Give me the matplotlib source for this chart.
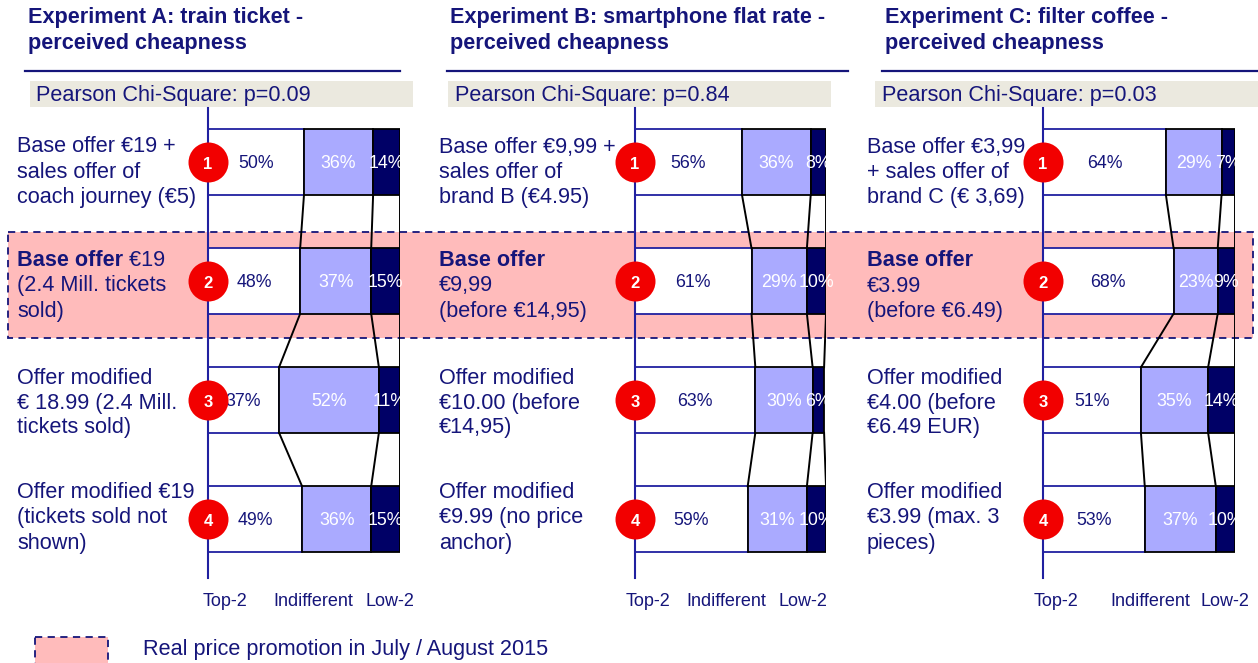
import numpy as np
import matplotlib
matplotlib.use("Agg")
import matplotlib.pyplot as plt
from matplotlib.patches import Rectangle

plt.rcParams['font.family'] = ['Liberation Sans', 'DejaVu Sans']

# ---- data -------------------------------------------------------------
titles = ["Experiment A: train ticket -\nperceived cheapness",
          "Experiment B: smartphone flat rate -\nperceived cheapness",
          "Experiment C: filter coffee -\nperceived cheapness"]
p_values = ["0.09", "0.84", "0.03"]

top2 = [[50, 48, 37, 49], [56, 61, 63, 59], [64, 68, 51, 53]]
indiff = [[36, 37, 52, 36], [36, 29, 30, 31], [29, 23, 35, 37]]
low2 = [[14, 15, 11, 15], [8, 10, 6, 10], [7, 9, 14, 10]]

row_labels = [
    ["Base offer €19 +\nsales offer of\ncoach journey (€5)",
     "Base offer €19\n(2.4 Mill. tickets\nsold)",
     "Offer modified\n€ 18.99 (2.4 Mill.\ntickets sold)",
     "Offer modified €19\n(tickets sold not\nshown)"],
    ["Base offer €9,99 +\nsales offer of\nbrand B (€4.95)",
     "Base offer\n€9,99\n(before €14,95)",
     "Offer modified\n€10.00 (before\n€14,95)",
     "Offer modified\n€9.99 (no price\nanchor)"],
    ["Base offer €3,99\n+ sales offer of\nbrand C (€ 3,69)",
     "Base offer\n€3.99\n(before €6.49)",
     "Offer modified\n€4.00 (before\n€6.49 EUR)",
     "Offer modified\n€3.99 (max. 3\npieces)"],
]
bold_prefix = "Base offer"   # bold on the highlighted row
highlight_row = 1
tick_labels = ["Top-2", "Indifferent", "Low-2"]
legend_text = "Real price promotion in July / August 2015"

# ---- style / layout (pixels) -----------------------------------------
W, H = 1258, 663
NAVY = '#15157a'
AXBLUE = '#2020a0'
LIGHT = '#aaaaff'
DARK = '#000066'
PINK = '#ffbbbb'
GREY = '#ebe9df'
RED = '#f20000'
FS = 15.6

title_x = [28, 450, 885]
uline = [(25, 400), (447, 848), (882, 1258)]
gbox = [(30, 413), (448, 831), (875, 1258)]
pearson_x = [36, 455, 882]
axis_x = [(208, 400), (635, 826), (1043, 1235)]
tick_pos = [[9, 55, 95], [7, 48, 88], [7, 56, 95]]
label_x = [17, 439, 867]
label_shift = [10, 5, 3, -1]   # px, label block vs bar center
ax_top, ax_bot = 108, 578
row_gap = 119          # px between bar centers
first_row = 162        # px of first bar center
bar_h = 0.55

fig = plt.figure(figsize=(W / 100, H / 100), dpi=100)
bg = fig.add_axes([0, 0, 1, 1])
bg.set_xlim(0, W)
bg.set_ylim(H, 0)
bg.axis('off')

# highlight band for the real price promotion
bg.add_patch(Rectangle((8, 232), 1245, 106, fc=PINK, ec=NAVY,
                       ls=(0, (4, 3)), lw=1.3, zorder=0))

for p in range(3):
    for k, line in enumerate(titles[p].split('\n')):
        bg.text(title_x[p], 18 + 26 * k, line, fontsize=FS, fontweight='bold',
                color=NAVY, va='center', ha='left')
    bg.plot(uline[p], [71, 71], color=NAVY, lw=1.6)
    bg.add_patch(Rectangle((gbox[p][0], 81), gbox[p][1] - gbox[p][0], 26,
                           fc=GREY, ec='none'))
    bg.text(pearson_x[p], 96, f"Pearson Chi-Square: p={p_values[p]}",
            fontsize=FS, color=NAVY, va='center', ha='left')

    x0, x1 = axis_x[p]
    ax = fig.add_axes([x0 / W, 1 - ax_bot / H, (x1 - x0) / W, (ax_bot - ax_top) / H])
    ax.patch.set_visible(False)
    top_lim = -(first_row - ax_top) / row_gap
    ax.set_ylim(top_lim + (ax_bot - ax_top) / row_gap, top_lim)
    ax.set_xlim(0, 100)

    rows = np.arange(4)
    t = np.array(top2[p])
    m = np.array(indiff[p])
    l = np.array(low2[p])
    ax.barh(rows, t, height=bar_h, color='white', edgecolor=AXBLUE, lw=1.3, zorder=2)
    ax.barh(rows, m, left=t, height=bar_h, color=LIGHT, edgecolor='black', lw=1.3, zorder=3)
    ax.barh(rows, l, left=t + m, height=bar_h, color=DARK, edgecolor='black', lw=1.3, zorder=3)

    # ribbons joining the segment borders of neighbouring bars
    for bnd in (t, t + m, t + m + l):
        for i in range(3):
            ax.plot([bnd[i], bnd[i + 1]], [i + bar_h / 2, i + 1 - bar_h / 2],
                    color='black', lw=1.4, zorder=2)

    for i in rows:
        yy = i + 0.015
        ax.text(t[i] / 2, yy, f"{t[i]}%", ha='center', va='center',
                color=NAVY, fontsize=12.8, zorder=4)
        ax.text(t[i] + m[i] / 2, yy, f"{m[i]}%", ha='center', va='center',
                color='white', fontsize=12.8, zorder=4)
        ax.text(t[i] + m[i] + l[i] / 2, yy, f"{l[i]}%", ha='center', va='center',
                color='white', fontsize=12.8, zorder=4)

    ax.scatter(np.zeros(4), rows, s=(40 * 0.72) ** 2, color=RED, zorder=5,
               clip_on=False, lw=0)
    for i in rows:
        ax.text(0, i + 0.02, str(i + 1), color='white', fontweight='bold', fontsize=12,
                ha='center', va='center', zorder=6)

    for s in ('top', 'right', 'bottom'):
        ax.spines[s].set_visible(False)
    ax.spines['left'].set_color(AXBLUE)
    ax.spines['left'].set_linewidth(1.5)
    ax.set_yticks([])
    ax.set_xticks(tick_pos[p])
    ax.set_xticklabels(tick_labels, fontsize=13, color=NAVY)
    ax.tick_params(axis='x', length=0, pad=10.5)

    # row labels, one line at a time
    dx = label_x[p] - x0
    for i in rows:
        lines = row_labels[p][i].split('\n')
        n = len(lines)
        for k, line in enumerate(lines):
            dy = -(k - (n - 1) / 2) * 25 - label_shift[i]
            if i == highlight_row and line.startswith(bold_prefix):
                a = ax.annotate(bold_prefix, xy=(0, i), xytext=(dx, dy),
                                textcoords='offset pixels', fontsize=FS,
                                fontweight='bold', color=NAVY, va='center', ha='left')
                rest = line[len(bold_prefix):]
                if rest:
                    ax.annotate(rest, xy=(1, 0), xycoords=a, fontsize=FS,
                                color=NAVY, va='bottom', ha='left')
            else:
                ax.annotate(line, xy=(0, i), xytext=(dx, dy),
                            textcoords='offset pixels', fontsize=FS,
                            color=NAVY, va='center', ha='left')

# legend for the highlight
bg.add_patch(Rectangle((35, 637), 73, 32, fc=PINK, ec=NAVY, ls=(0, (4, 3)), lw=1.3))
bg.text(143, 650, legend_text, fontsize=FS, color=NAVY, va='center', ha='left')

fig.savefig('out.png', dpi=100)
